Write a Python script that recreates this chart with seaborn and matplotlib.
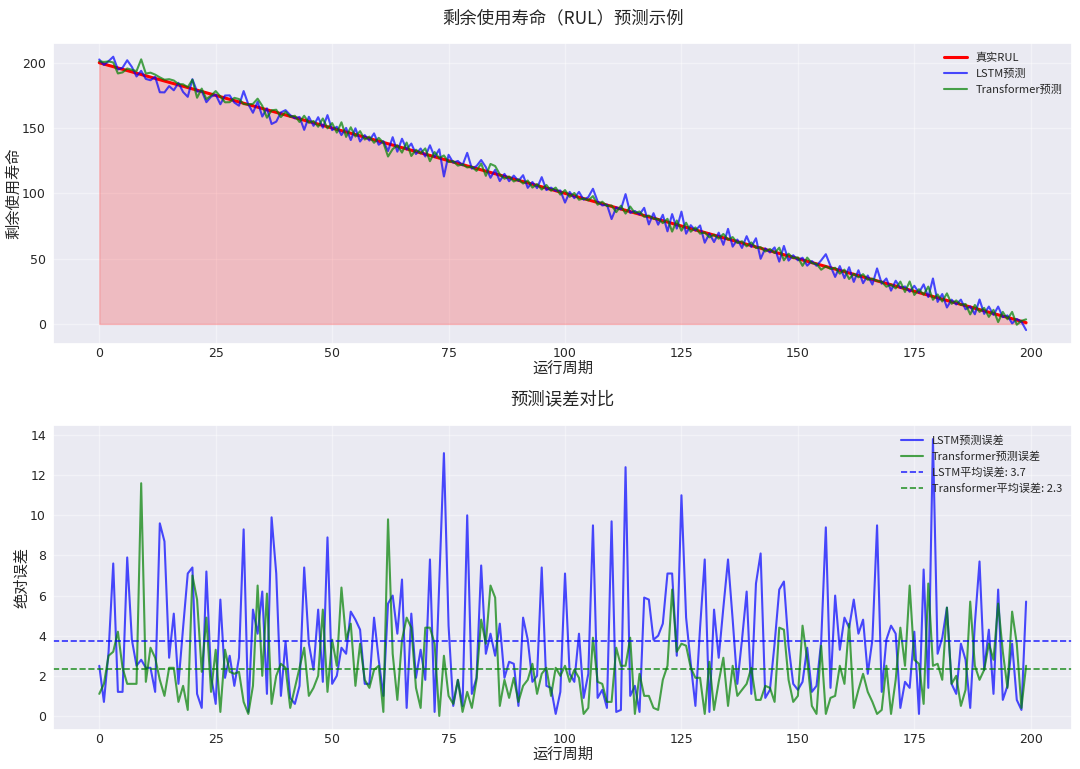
import numpy as np
import matplotlib
matplotlib.use("Agg")
import matplotlib.pyplot as plt
import seaborn as sns

# ---------------- data ----------------
cycles = list(range(200))
rul_start, rul_end = 200.0, 1.0

lstm_err = [2.5, 0.7, 3.2, 7.6, 1.2, 1.2, 7.9, 3.8, 2.5, 2.8,
            2.4, 2.4, 1.2, 9.6, 8.7, 2.9, 5.1, 1.6, 4.4, 7.1,
            7.4, 1.1, 0.4, 7.2, 2.0, 0.6, 5.8, 1.9, 3.0, 1.5,
            2.9, 9.3, 0.2, 5.3, 4.1, 6.2, 1.1, 9.9, 7.1, 1.0,
            3.7, 0.9, 0.6, 1.5, 7.4, 3.6, 2.3, 5.3, 1.7, 8.9,
            1.6, 2.0, 3.4, 3.1, 5.2, 4.8, 4.3, 1.6, 1.6, 4.9,
            2.8, 1.0, 5.6, 6.0, 4.1, 6.8, 0.4, 5.1, 1.9, 3.3,
            1.8, 7.8, 0.2, 6.7, 13.1, 4.5, 0.5, 1.8, 0.5, 10.0,
            1.1, 1.9, 7.5, 3.1, 4.1, 3.0, 4.6, 1.9, 2.7, 2.6,
            0.5, 4.9, 3.8, 1.7, 2.0, 7.4, 1.5, 1.4, 0.1, 1.2,
            7.1, 2.1, 1.7, 4.1, 0.9, 2.1, 9.5, 0.9, 1.3, 0.4,
            9.7, 0.2, 0.3, 12.4, 1.0, 1.5, 0.2, 5.9, 5.8, 3.8,
            4.0, 4.6, 7.1, 7.1, 3.0, 11.0, 4.9, 2.6, 0.5, 4.4,
            7.8, 0.2, 5.3, 2.9, 5.4, 7.8, 4.8, 1.6, 3.8, 6.2,
            1.1, 6.6, 8.1, 0.9, 1.3, 3.6, 6.3, 6.7, 3.5, 1.6,
            1.3, 1.7, 3.4, 1.2, 1.5, 3.7, 9.4, 1.4, 6.0, 3.3,
            4.9, 4.4, 5.8, 4.1, 4.8, 2.1, 3.8, 9.5, 1.2, 3.8,
            4.5, 4.1, 0.4, 1.7, 1.4, 4.2, 0.1, 7.3, 1.4, 13.8,
            3.1, 3.9, 5.4, 1.6, 1.1, 3.6, 2.8, 0.4, 4.6, 7.7,
            2.3, 4.3, 1.1, 6.3, 0.8, 1.5, 3.6, 0.8, 0.3, 5.7]

trans_err = [1.1, 1.6, 3.0, 3.2, 4.2, 2.4, 1.6, 1.6, 1.6, 11.6,
             1.7, 3.4, 2.9, 1.8, 1.0, 2.4, 2.4, 0.7, 1.5, 0.3,
             7.0, 5.8, 2.2, 4.9, 1.2, 3.3, 0.2, 3.3, 2.2, 2.1,
             2.2, 0.7, 0.1, 1.5, 6.5, 2.0, 6.1, 0.6, 2.0, 2.6,
             2.4, 0.4, 1.4, 2.4, 3.4, 1.0, 1.4, 2.0, 5.3, 1.2,
             3.8, 2.5, 6.4, 3.8, 4.6, 1.5, 3.6, 1.8, 1.4, 2.3,
             2.5, 0.2, 9.8, 3.1, 0.8, 3.8, 4.9, 4.4, 1.4, 0.4,
             4.4, 4.4, 3.6, 0.0, 3.0, 1.0, 0.6, 1.8, 0.2, 1.2,
             0.4, 1.8, 4.8, 3.6, 6.5, 5.9, 0.5, 1.8, 0.9, 1.9,
             0.7, 1.5, 1.8, 2.6, 1.1, 2.1, 2.4, 1.0, 2.4, 2.0,
             2.5, 1.7, 2.3, 1.9, 0.1, 0.4, 3.9, 1.7, 1.6, 0.7,
             0.7, 3.4, 2.5, 2.5, 3.9, 0.1, 2.1, 1.0, 1.0, 0.4,
             0.3, 1.8, 2.5, 6.3, 3.2, 3.6, 3.5, 2.4, 1.9, 1.9,
             0.1, 2.7, 0.3, 1.7, 2.9, 0.5, 2.5, 1.0, 1.3, 1.6,
             2.4, 0.8, 0.8, 1.5, 1.4, 0.7, 4.4, 4.3, 1.8, 0.7,
             1.0, 4.5, 2.8, 0.5, 0.1, 3.5, 0.1, 0.9, 1.0, 2.5,
             1.6, 4.6, 0.4, 1.3, 2.1, 1.2, 0.7, 0.1, 0.3, 2.5,
             0.1, 1.8, 4.4, 2.5, 6.5, 2.8, 2.6, 0.6, 6.6, 2.5,
             2.6, 1.8, 5.4, 1.6, 2.0, 0.5, 1.3, 5.7, 2.5, 1.8,
             2.3, 3.6, 2.8, 5.6, 3.2, 1.4, 5.2, 3.6, 0.4, 2.5]

# direction of each prediction relative to the true RUL (+1 above, -1 below)
lstm_sign = [1, -1, 1, 1, -1, 1, 1, 1, -1, 1,
             -1, -1, 1, -1, -1, -1, -1, 1, -1, -1,
             1, -1, 1, -1, -1, 1, -1, 1, 1, -1,
             -1, 1, 1, -1, 1, -1, 1, -1, -1, 1,
             1, 1, -1, 1, -1, 1, -1, 1, -1, 1,
             -1, 1, -1, 1, -1, 1, -1, 1, -1, 1,
             -1, 1, -1, 1, -1, 1, -1, 1, -1, 1,
             -1, 1, -1, 1, -1, 1, -1, 1, -1, 1,
             -1, 1, 1, 1, -1, 1, -1, 1, -1, 1,
             -1, 1, -1, 1, -1, 1, -1, 1, -1, 1,
             -1, 1, -1, 1, -1, 1, 1, 1, -1, 1,
             -1, 1, -1, 1, -1, 1, -1, 1, -1, 1,
             -1, 1, -1, 1, -1, 1, -1, 1, -1, 1,
             -1, 1, -1, 1, -1, 1, -1, 1, -1, 1,
             -1, 1, -1, 1, -1, 1, -1, 1, -1, 1,
             -1, 1, -1, 1, -1, 1, 1, 1, -1, 1,
             -1, 1, -1, 1, -1, 1, -1, 1, -1, 1,
             -1, 1, -1, 1, -1, 1, -1, 1, -1, 1,
             -1, 1, -1, 1, -1, 1, -1, 1, -1, 1,
             -1, 1, -1, 1, -1, 1, -1, 1, -1, -1]
trans_sign = [1, 1, 1, 1, -1, -1, 1, 1, 1, 1,
              1, 1, 1, 1, 1, 1, 1, 1, 1, 1,
              1, -1, 1, -1, -1, 1, 1, -1, -1, 1,
              1, -1, 1, 1, 1, 1, -1, 1, 1, -1,
              1, -1, 1, -1, 1, -1, 1, -1, 1, -1,
              1, -1, 1, -1, 1, -1, 1, -1, 1, -1,
              1, -1, -1, -1, 1, -1, 1, -1, 1, -1,
              1, -1, 1, -1, 1, -1, 1, -1, 1, -1,
              1, -1, 1, -1, 1, 1, 1, -1, 1, -1,
              1, -1, 1, -1, 1, -1, 1, -1, 1, -1,
              1, -1, 1, -1, 1, -1, 1, -1, 1, -1,
              1, -1, 1, -1, 1, -1, 1, -1, 1, -1,
              1, -1, 1, -1, 1, -1, 1, -1, 1, -1,
              1, -1, 1, -1, 1, -1, 1, -1, 1, -1,
              1, -1, 1, -1, 1, -1, 1, -1, 1, -1,
              1, -1, 1, -1, 1, -1, 1, -1, 1, -1,
              1, -1, 1, -1, 1, -1, 1, -1, 1, -1,
              1, -1, 1, -1, 1, -1, 1, -1, 1, -1,
              1, -1, 1, -1, 1, -1, 1, -1, 1, -1,
              1, -1, 1, -1, 1, -1, 1, -1, 1, 1]

xticks = [0, 25, 50, 75, 100, 125, 150, 175, 200]
yticks_top = [0, 50, 100, 150, 200]
yticks_bottom = [0, 2, 4, 6, 8, 10, 12, 14]

# ---------------- derived ----------------
x = np.array(cycles)
true_rul = np.linspace(rul_start, rul_end, len(cycles))
lstm_e = np.array(lstm_err)
trans_e = np.array(trans_err)
lstm_pred = true_rul + np.array(lstm_sign) * lstm_e
trans_pred = true_rul + np.array(trans_sign) * trans_e
lstm_mean = lstm_e.mean()
trans_mean = trans_e.mean()

# ---------------- style ----------------
sns.set_theme(style="darkgrid")
plt.rcParams["font.family"] = ["DejaVu Sans", "Noto Sans CJK SC"]
plt.rcParams["axes.unicode_minus"] = False
CJK = ["Noto Sans CJK SC", "DejaVu Sans"]

fig = plt.figure(figsize=(10.8, 7.69), dpi=100)
ax1 = fig.add_axes([0.049, 0.553, 0.944, 0.391])
ax2 = fig.add_axes([0.049, 0.051, 0.944, 0.396])

# top panel
sns.lineplot(x=x, y=true_rul, ax=ax1, color="red", linewidth=2.2, label="真实RUL")
sns.lineplot(x=x, y=lstm_pred, ax=ax1, color="blue", alpha=0.7, linewidth=1.5, label="LSTM预测")
sns.lineplot(x=x, y=trans_pred, ax=ax1, color="green", alpha=0.7, linewidth=1.5, label="Transformer预测")
ax1.fill_between(x, 0, true_rul, color="red", alpha=0.2)
ax1.set_title("剩余使用寿命（RUL）预测示例", family=CJK, fontsize=12.5, pad=14)

# bottom panel
sns.lineplot(x=x, y=lstm_e, ax=ax2, color="blue", alpha=0.7, linewidth=1.5, label="LSTM预测误差")
sns.lineplot(x=x, y=trans_e, ax=ax2, color="green", alpha=0.7, linewidth=1.5, label="Transformer预测误差")
ax2.axhline(lstm_mean, color="blue", linestyle="--", alpha=0.8, linewidth=1.2,
            label=f"LSTM平均误差: {lstm_mean:.1f}")
ax2.axhline(trans_mean, color="green", linestyle="--", alpha=0.8, linewidth=1.2,
            label=f"Transformer平均误差: {trans_mean:.1f}")
ax2.set_title("预测误差对比", family=CJK, fontsize=12.5, pad=15)

for ax, ylab, yt in [(ax1, "剩余使用寿命", yticks_top), (ax2, "绝对误差", yticks_bottom)]:
    ax.set_xlabel("运行周期", family=CJK, fontsize=11, labelpad=0)
    ax.set_ylabel(ylab, family=CJK, fontsize=11, labelpad=0)
    ax.set_xticks(xticks)
    ax.set_yticks(yt)
    ax.tick_params(axis="x", labelsize=9, pad=2, length=0)
    ax.tick_params(axis="y", labelsize=9, pad=5, length=0)
    ax.grid(True, alpha=0.4)
    ax.legend(loc="upper right", frameon=False, prop={"family": CJK, "size": 8})

fig.savefig("out.png", dpi=100)
